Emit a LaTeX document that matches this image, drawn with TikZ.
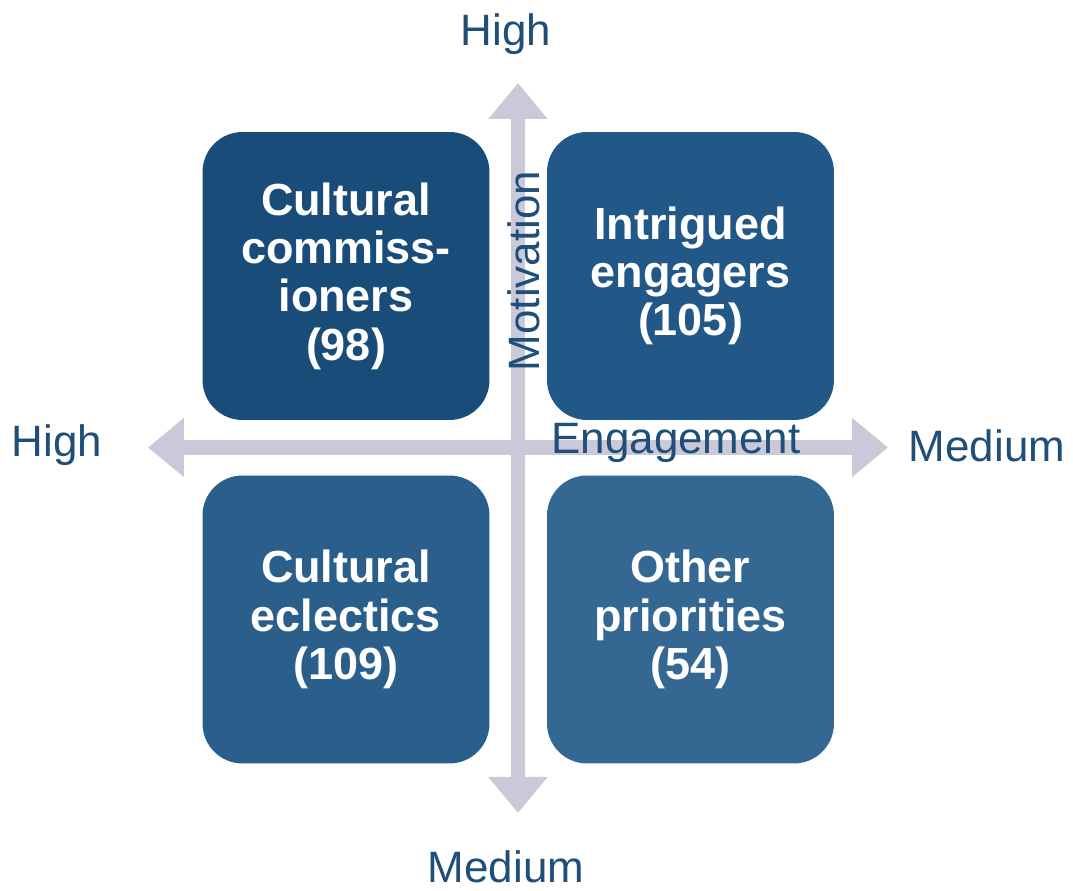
\documentclass[tikz,border=0pt]{standalone}
\usepackage{fontspec}
\setmainfont{Liberation Sans}
\usetikzlibrary{arrows.meta}
\definecolor{cuadA}{HTML}{1A4C7A}
\definecolor{cuadB}{HTML}{215888}
\definecolor{cuadC}{HTML}{2A5F8C}
\definecolor{cuadD}{HTML}{346893}
\definecolor{ejegris}{HTML}{C9C9DA}
\definecolor{etiqazul}{HTML}{1F4E79}
\tikzstyle{cuadrante}=[text=white, font=\bfseries\fontsize{25.6}{27.5}\selectfont,
  align=center, minimum width=5.74cm, minimum height=5.76cm, rounded corners=0.8cm]
\tikzstyle{eje} = [draw, line width=0.29cm, color=ejegris,
  {Triangle[length=0.72cm,width=1.14cm]}-{Triangle[length=0.72cm,width=1.14cm]}]
\tikzstyle{etiqueta}=[text=etiqazul, font=\fontsize{25}{26}\selectfont, anchor=base, inner sep=0pt]

\begin{document}
\begin{tikzpicture}[x=0.02cm,y=0.02cm]
  \useasboundingbox (0,0) rectangle (1073,891);

  \coordinate (c) at (518,443.5);
  \path (c)+(0,364.5) coordinate (mtop);
  \path (c)+(0,-365.5) coordinate (mbot);
  \path (c)+(-370,0) coordinate (eleft);
  \path (c)+(370,0) coordinate (eright);

  \path [eje] (mbot) -- (mtop);
  \path [eje] (eleft) -- (eright);

  \path (c)+(-172,171.5) node (q1) [cuadrante, fill=cuadA] {Cultural\\commiss-\\ioners\\(98)};
  \path (c)+(172.5,171.5) node (q2) [cuadrante, fill=cuadB] {Intrigued\\engagers\\(105)};
  \path (c)+(-172,-172) node (q3) [cuadrante, fill=cuadC] {Cultural\\eclectics\\(109)};
  \path (c)+(172.5,-172) node (q4) [cuadrante, fill=cuadD] {Other\\priorities\\(54)};

  \node (mot) [etiqueta, rotate=90] at (539,620) {Motivation};
  \node (eng) [etiqueta] at (676,437) {Engagement};
  \node (mhigh) [etiqueta] at (506,845) {High};
  \node (mmed) [etiqueta] at (506,8) {Medium};
  \node (ehigh) [etiqueta] at (57,434) {High};
  \node (emed) [etiqueta] at (987,429) {Medium};
\end{tikzpicture}
\end{document}
